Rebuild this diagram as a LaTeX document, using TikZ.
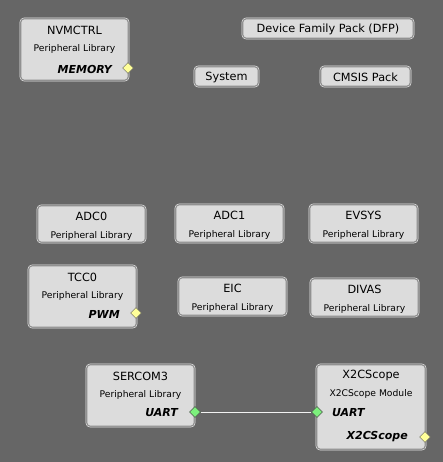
\documentclass[tikz,border=0pt]{standalone}
\usepackage{fontspec}
\setmainfont{DejaVu Sans}
\usetikzlibrary{shapes.geometric}
\definecolor{bg}{HTML}{666666}
\definecolor{boxfill}{HTML}{DCDCDC}
\definecolor{boxline}{HTML}{8C8C8C}
\definecolor{ydia}{HTML}{FFFF99}
\definecolor{gdia}{HTML}{7CF07C}
\tikzset{
  comp/.style={draw=boxline, fill=boxfill, rounded corners=3pt, line width=0.8pt},
  outer/.style={draw=white!85!gray, rounded corners=4pt, line width=0.6pt},
  ttl/.style={font=\fontsize{11.3}{13}\selectfont, text=black, inner sep=0pt},
  sub/.style={font=\fontsize{9.2}{11}\selectfont, text=black, inner sep=0pt},
  bi/.style={font=\fontsize{11}{13}\selectfont\bfseries\itshape, text=black, inner sep=0pt},
  ydiam/.style={diamond, draw=gray!70!black, fill=ydia, minimum width=11pt, minimum height=11pt, inner sep=0pt, line width=0.4pt},
  gdiam/.style={diamond, draw=gray!60!black, fill=gdia, minimum width=11pt, minimum height=11pt, inner sep=0pt, line width=0.4pt},
  wire/.style={draw=white!90!gray, line width=0.8pt}
}
\newcommand{\compbox}[5]{% name, x1,y1,x2,y2
  \draw[outer] (#2-1,#3-1) rectangle (#4+1,#5+1);
  \draw[comp] (#2,#3) rectangle (#4,#5);
  \coordinate (#1) at ({(#2+#4)/2},#3);
}
\begin{document}
\begin{tikzpicture}[x=1pt,y=-1pt]
\fill[bg] (0,0) rectangle (443,462);
\useasboundingbox (0,0) rectangle (443,462);

% NVMCTRL
\compbox{nvm}{21}{19}{128}{80}
\node[ttl] (nvmT) at (74.5,30) {NVMCTRL};
\node[sub] (nvmS) at (74.5,49) {Peripheral Library};
\node[bi, anchor=east] (nvmM) at (112,69) {MEMORY};
\node[ydiam] (nvmD) at (128,68) {};

% DFP, System, CMSIS
\compbox{dfp}{243}{19}{413}{38}
\node[ttl] (dfpT) at (328,29) {Device Family Pack (DFP)};
\compbox{sys}{195}{67}{258}{86}
\node[ttl] (sysT) at (226.5,77) {System};
\compbox{cms}{321}{67}{410}{86}
\node[ttl] (cmsT) at (365.5,77) {CMSIS Pack};

% ADC0, ADC1, EVSYS
\compbox{adc0}{38}{206}{145}{242}
\node[ttl] (adc0T) at (91.5,216) {ADC0};
\node[sub] (adc0S) at (91.5,236) {Peripheral Library};
\compbox{adc1}{176}{205}{283}{242}
\node[ttl] (adc1T) at (229.5,215) {ADC1};
\node[sub] (adc1S) at (229.5,235) {Peripheral Library};
\compbox{evs}{310}{205}{417}{242}
\node[ttl] (evsT) at (363.5,215) {EVSYS};
\node[sub] (evsS) at (363.5,235) {Peripheral Library};

% TCC0, EIC, DIVAS
\compbox{tcc}{29}{266}{136}{327}
\node[ttl] (tccT) at (82.5,277) {TCC0};
\node[sub] (tccS) at (82.5,296) {Peripheral Library};
\node[bi, anchor=east] (tccP) at (120,314) {PWM};
\node[ydiam] (tccD) at (136,313) {};
\compbox{eic}{179}{278}{286}{315}
\node[ttl] (eicT) at (232.5,288) {EIC};
\node[sub] (eicS) at (232.5,308) {Peripheral Library};
\compbox{div}{311}{279}{418}{316}
\node[ttl] (divT) at (364.5,289) {DIVAS};
\node[sub] (divS) at (364.5,309) {Peripheral Library};

% SERCOM3
\compbox{ser}{87}{365}{194}{426}
\node[ttl] (serT) at (140.5,376) {SERCOM3};
\node[sub] (serS) at (140.5,395) {Peripheral Library};
\node[bi, anchor=east] (serU) at (178,413) {UART};

% X2CScope
\compbox{x2c}{317}{365}{425}{449}
\node[ttl] (x2cT) at (371,375) {X2CScope};
\node[sub] (x2cS) at (371,394) {X2CScope Module};
\node[bi, anchor=west] (x2cU) at (332,413) {UART};
\node[bi, anchor=east] (x2cX) at (408,437) {X2CScope};

\node[gdiam] (serD) at (195,412) {};
\node[gdiam] (x2cD) at (317,412) {};
\draw[wire] (serD) -- (x2cD);
\node[gdiam] at (195,412) {};
\node[gdiam] at (317,412) {};
\node[ydiam] (x2cY) at (425,437) {};
\end{tikzpicture}
\end{document}
